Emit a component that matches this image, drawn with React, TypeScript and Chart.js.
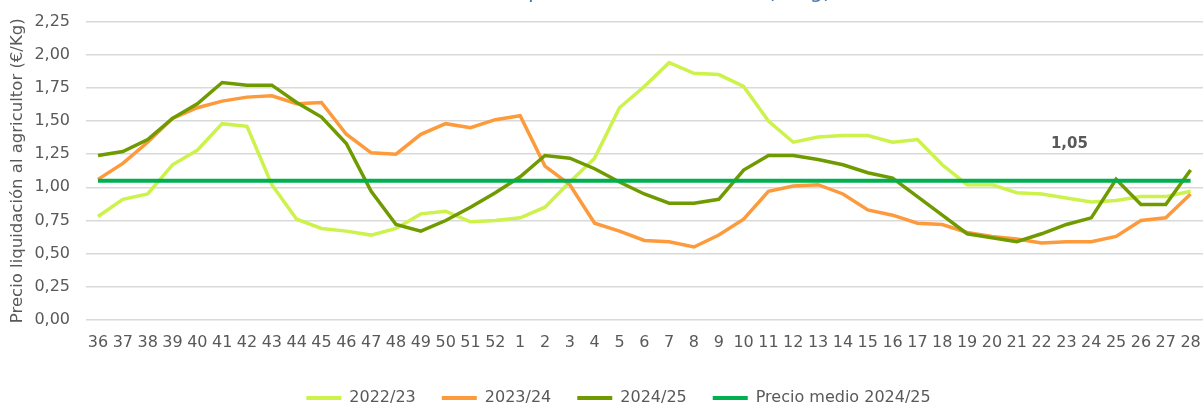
import { useEffect, useRef } from 'react';
import { Chart, registerables } from 'chart.js';

Chart.register(...registerables);

const weeks = [
  '36', '37', '38', '39', '40', '41', '42', '43', '44', '45', '46', '47', '48', '49', '50', '51', '52',
  '1', '2', '3', '4', '5', '6', '7', '8', '9', '10', '11', '12', '13', '14', '15', '16', '17', '18', '19',
  '20', '21', '22', '23', '24', '25', '26', '27', '28',
];

const campaign2223 = [
  0.78, 0.91, 0.95, 1.17, 1.28, 1.48, 1.46, 1.02, 0.76, 0.69, 0.67, 0.64, 0.69, 0.80, 0.82, 0.74, 0.75,
  0.77, 0.85, 1.04, 1.22, 1.60, 1.76, 1.94, 1.86, 1.85, 1.76, 1.50, 1.34, 1.38, 1.39, 1.39, 1.34, 1.36, 1.17, 1.02,
  1.02, 0.96, 0.95, 0.92, 0.89, 0.90, 0.93, 0.93, 0.97,
];

const campaign2324 = [
  1.06, 1.18, 1.34, 1.52, 1.60, 1.65, 1.68, 1.69, 1.63, 1.64, 1.40, 1.26, 1.25, 1.40, 1.48, 1.45, 1.51,
  1.54, 1.16, 1.02, 0.73, 0.67, 0.60, 0.59, 0.55, 0.64, 0.76, 0.97, 1.01, 1.02, 0.95, 0.83, 0.79, 0.73, 0.72, 0.66,
  0.63, 0.61, 0.58, 0.59, 0.59, 0.63, 0.75, 0.77, 0.95,
];

const campaign2425 = [
  1.24, 1.27, 1.36, 1.52, 1.63, 1.79, 1.77, 1.77, 1.64, 1.53, 1.33, 0.97, 0.72, 0.67, 0.75, 0.85, 0.96,
  1.08, 1.24, 1.22, 1.14, 1.04, 0.95, 0.88, 0.88, 0.91, 1.13, 1.24, 1.24, 1.21, 1.17, 1.11, 1.07, 0.93, 0.79, 0.65,
  0.62, 0.59, 0.65, 0.72, 0.77, 1.06, 0.87, 0.87, 1.13,
];

const precioMedio2425 = [
  1.05, 1.05, 1.05, 1.05, 1.05, 1.05, 1.05, 1.05, 1.05, 1.05, 1.05, 1.05, 1.05, 1.05, 1.05, 1.05, 1.05,
  1.05, 1.05, 1.05, 1.05, 1.05, 1.05, 1.05, 1.05, 1.05, 1.05, 1.05, 1.05, 1.05, 1.05, 1.05, 1.05, 1.05, 1.05, 1.05,
  1.05, 1.05, 1.05, 1.05, 1.05, 1.05, 1.05, 1.05, 1.05,
];

const seriesLabels = ['2022/23', '2023/24', '2024/25', 'Precio medio 2024/25'];
const seriesColors = ['#ccf24b', '#fd9a3c', '#6f9b00', '#00b050'];

const yMin = 0;
const yMax = 2.25;
const yStep = 0.25;

const labelledIndex = 39;
const chartTitle = 'Evolución precio medio semanal (€/Kg)';
const yAxisTitle = 'Precio liquidación al agricultor (€/Kg)';

const FONT = '"DejaVu Sans", sans-serif';
const GREY = '#595959';

const fmt = (v: number) => Number(v).toFixed(2).replace('.', ',');

const croppedTitle = {
  id: 'croppedTitle',
  afterDraw(chart: any) {
    const ctx = chart.ctx;
    ctx.save();
    ctx.font = `21px ${FONT}`;
    ctx.fillStyle = '#4a78b5';
    ctx.textAlign = 'left';
    ctx.textBaseline = 'alphabetic';
    const prefix = ctx.measureText('Evolución ').width;
    ctx.fillText(chartTitle, 528 - prefix, -2);
    ctx.restore();
  },
};

const valueLabel = {
  id: 'valueLabel',
  afterDatasetsDraw(chart: any) {
    const meta = chart.getDatasetMeta(3);
    const pt = meta.data[labelledIndex];
    if (!pt) return;
    const ctx = chart.ctx;
    ctx.save();
    ctx.font = `bold 15px ${FONT}`;
    ctx.fillStyle = GREY;
    ctx.textAlign = 'center';
    ctx.textBaseline = 'middle';
    ctx.fillText(fmt(precioMedio2425[labelledIndex]), pt.x + 3, pt.y - 37);
    ctx.restore();
  },
};

const legendShift = {
  id: 'legendShift',
  afterLayout(chart: any) {
    const lg = chart.legend;
    if (lg) {
      lg.left += 2;
      lg.right += 2;
    }
  },
};

export default function App() {
  const ref = useRef<HTMLCanvasElement>(null);

  useEffect(() => {
    document.body.style.margin = '0';
    if (!ref.current) return;
    Chart.defaults.font.family = FONT;
    const series = [campaign2223, campaign2324, campaign2425, precioMedio2425];
    const orders = [3, 2, 1, 0];
    const chart = new Chart(ref.current, {
      type: 'line',
      data: {
        labels: weeks,
        datasets: series.map((d, i) => ({
          label: seriesLabels[i],
          data: d,
          borderColor: seriesColors[i],
          backgroundColor: seriesColors[i],
          borderWidth: i === 3 ? 4 : 3.5,
          pointRadius: 0,
          tension: 0,
          fill: false,
          order: orders[i],
        })),
      },
      options: {
        responsive: false,
        animation: false,
        events: [],
        layout: { padding: { left: 30, right: 1, top: 21.5, bottom: 0 } },
        plugins: {
          tooltip: { enabled: false },
          title: { display: false },
          legend: {
            position: 'bottom',
            labels: {
              boxWidth: 35,
              boxHeight: 4,
              padding: 26,
              color: GREY,
              font: { size: 16, family: FONT },
              generateLabels(c: any) {
                const items = Chart.defaults.plugins.legend.labels.generateLabels(c);
                return items
                  .map((it: any) => ({ ...it, fillStyle: it.strokeStyle, lineWidth: 0 }))
                  .sort((a: any, b: any) => a.datasetIndex - b.datasetIndex);
              },
            },
          },
        },
        scales: {
          x: {
            offset: true,
            grid: { display: false, drawTicks: false },
            border: { display: false },
            ticks: {
              color: GREY,
              font: { size: 16, family: FONT, lineHeight: 2.85 },
              padding: 0,
              maxRotation: 0,
              autoSkip: false,
            },
            afterFit: (s: any) => { s.height = 44; },
          },
          y: {
            min: yMin,
            max: yMax,
            ticks: {
              stepSize: yStep,
              color: GREY,
              font: { size: 16, family: FONT },
              padding: 0,
              callback: (v: any) => fmt(v),
            },
            grid: {
              color: '#d9d9d9',
              lineWidth: 1.5,
              drawTicks: true,
              tickLength: 15.6,
              tickColor: 'rgba(0,0,0,0)',
            },
            border: { display: false },
            title: {
              display: true,
              text: yAxisTitle,
              color: GREY,
              font: { size: 16.5, family: FONT },
              padding: { top: -22.6, bottom: 0 },
            },
            afterFit: (s: any) => { s.width = 55.6; },
          },
        },
      },
      plugins: [croppedTitle, valueLabel, legendShift],
    } as any);
    return () => chart.destroy();
  }, []);

  return (
    <div style={{ width: 1204, height: 406, overflow: 'hidden', position: 'relative' }}>
      <canvas ref={ref} width={1204} height={416} style={{ display: 'block', width: 1204, height: 416 }} />
    </div>
  );
}
